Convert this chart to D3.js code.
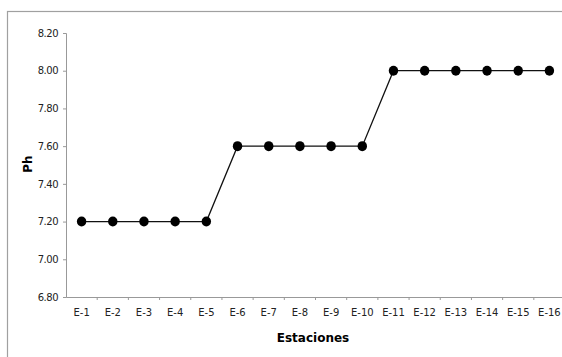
<!DOCTYPE html>
<html><head><meta charset="utf-8">
<script src="https://cdn.jsdelivr.net/npm/d3@7"></script>
<style>
body{margin:0;background:#fff;}
svg{display:block;}
text{font-family:"DejaVu Sans",sans-serif;}
</style></head>
<body>
<svg id="c" width="562" height="357"></svg>
<script>
const categories = ["E-1","E-2","E-3","E-4","E-5","E-6","E-7","E-8","E-9","E-10","E-11","E-12","E-13","E-14","E-15","E-16"];
const phValues = [7.2,7.2,7.2,7.2,7.2,7.6,7.6,7.6,7.6,7.6,8.0,8.0,8.0,8.0,8.0,8.0];
const yTicks = [6.8,7.0,7.2,7.4,7.6,7.8,8.0,8.2];

(function(){
const svg = d3.select("#c");
svg.append("rect").attr("x",7.5).attr("y",11.5).attr("width",600).attr("height",400)
  .attr("fill","none").attr("stroke","#a0a0a0").attr("stroke-width",1.2);

const mLeft = 66, mTop = 33, mBottom = 297, mRight = 565;
const x = d3.scaleBand().domain(categories).range([mLeft, mRight]).padding(0);
const y = d3.scaleLinear().domain([6.8, 8.2]).range([mBottom, mTop]);

const yAxis = svg.append("g").attr("transform",`translate(${mLeft},0)`)
  .call(d3.axisLeft(y).tickValues(yTicks).tickFormat(d3.format(".2f")).tickSize(3).tickPadding(5));
yAxis.select(".domain").attr("stroke","#999");
yAxis.selectAll(".tick line").attr("stroke","#999");
yAxis.selectAll("text").attr("font-size","10px").attr("fill","#222").attr("letter-spacing","-0.5px");

const xAxis = svg.append("g").attr("transform",`translate(0,${mBottom})`)
  .call(d3.axisBottom(x).tickSize(0).tickPadding(12));
xAxis.select(".domain").attr("stroke","#999");
xAxis.selectAll("text").attr("font-size","10px").attr("fill","#222");
xAxis.selectAll(".bt").data(categories.slice(1)).enter().append("line")
  .attr("x1",d=>x(d)).attr("x2",d=>x(d)).attr("y1",0).attr("y2",3).attr("stroke","#999");

const line = d3.line().x((d,i)=>x(categories[i])+x.bandwidth()/2).y(d=>y(d));
svg.append("path").datum(phValues).attr("d",line).attr("fill","none").attr("stroke","#111").attr("stroke-width",1.3);
svg.selectAll(".pt").data(phValues).enter().append("ellipse")
  .attr("cx",(d,i)=>x(categories[i])+x.bandwidth()/2).attr("cy",d=>y(d))
  .attr("rx",4.7).attr("ry",5).attr("fill","#000");

svg.append("text").attr("x",313).attr("y",342).attr("text-anchor","middle")
  .attr("font-size","12px").attr("font-weight","bold").text("Estaciones");
svg.append("text").attr("transform","translate(32,164) rotate(-90)").attr("text-anchor","middle")
  .attr("font-size","12px").attr("font-weight","bold").text("Ph");
})();
</script>
</body></html>
